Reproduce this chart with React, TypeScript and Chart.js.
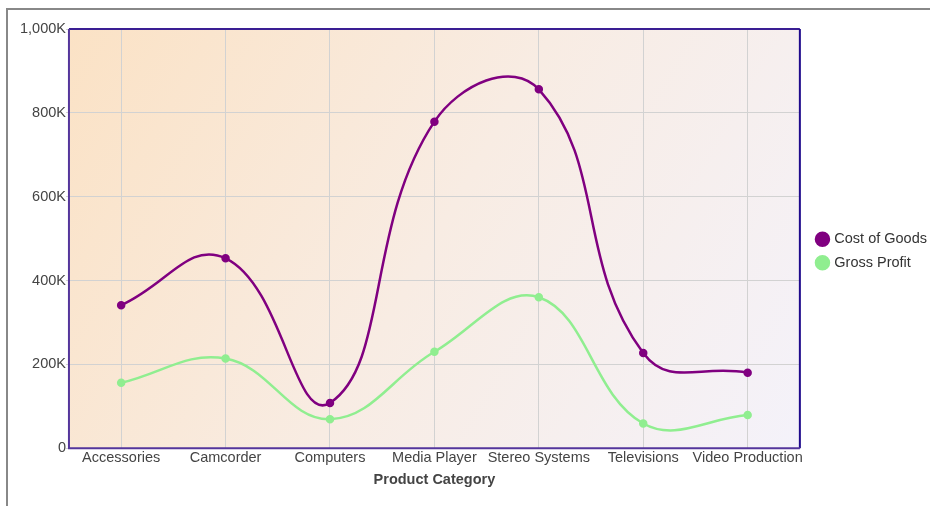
import React, { useEffect, useRef } from "react";
import { Chart, registerables } from "chart.js";

Chart.register(...registerables);

const categories = [
  "Accessories",
  "Camcorder",
  "Computers",
  "Media Player",
  "Stereo Systems",
  "Televisions",
  "Video Production",
];
const costOfGoods = [341000, 453000, 108000, 779000, 856000, 227000, 180000];
const grossProfit = [156000, 214000, 69000, 230000, 360000, 59000, 79000];
const seriesNames = ["Cost of Goods", "Gross Profit"];
const axisTitle = "Product Category";

const FONT = "'Liberation Sans', Arial, Helvetica, sans-serif";
const FS = 14.5;

const areaPlugin = {
  id: "areaDeco",
  beforeDraw(chart: any) {
    const { ctx, chartArea } = chart;
    const { left, top, right, bottom } = chartArea;
    const g = ctx.createLinearGradient(left, top, right, bottom);
    g.addColorStop(0, "#fbe2c5");
    g.addColorStop(0.5, "#f8ece3");
    g.addColorStop(1, "#f4f2fa");
    ctx.save();
    ctx.fillStyle = g;
    ctx.fillRect(left, top, right - left, bottom - top);
    ctx.restore();
  },
  afterDraw(chart: any) {
    const { ctx, chartArea } = chart;
    const { left, top, right, bottom } = chartArea;
    ctx.save();
    ctx.lineWidth = 2;
    ctx.strokeStyle = "#3a1e93";
    ctx.beginPath();
    ctx.moveTo(left, top);
    ctx.lineTo(right, top);
    ctx.stroke();
    ctx.strokeStyle = "#1f0a8c";
    ctx.beginPath();
    ctx.moveTo(right, top);
    ctx.lineTo(right, bottom);
    ctx.stroke();
    ctx.strokeStyle = "#54369c";
    ctx.beginPath();
    ctx.moveTo(left, top);
    ctx.lineTo(left, bottom);
    ctx.lineTo(right, bottom);
    ctx.stroke();
    ctx.restore();
  },
};

const legendShift = {
  id: "legendShift",
  afterLayout(chart: any) {
    const l = chart.legend;
    if (l) {
      const dx = 9;
      const dy = -10;
      l.left += dx;
      l.right += dx;
      l.top += dy;
      l.bottom += dy;
    }
  },
};

export default function App() {
  const ref = useRef<HTMLCanvasElement | null>(null);
  useEffect(() => {
    if (!ref.current) return;
    const chart = new Chart(ref.current, {
      type: "line",
      data: {
        labels: categories,
        datasets: [
          {
            label: seriesNames[0],
            data: costOfGoods,
            borderColor: "#800080",
            backgroundColor: "#800080",
            borderWidth: 2.5,
            pointRadius: 3,
            pointHoverRadius: 3,
            tension: 0.45,
            fill: false,
          },
          {
            label: seriesNames[1],
            data: grossProfit,
            borderColor: "#90ee90",
            backgroundColor: "#90ee90",
            borderWidth: 2.5,
            pointRadius: 3,
            pointHoverRadius: 3,
            tension: 0.4,
            fill: false,
          },
        ],
      },
      plugins: [areaPlugin, legendShift],
      options: {
        responsive: false,
        animation: false,
        layout: { padding: { top: 19, left: 12, right: 2, bottom: 13 } },
        plugins: {
          tooltip: { enabled: false },
          legend: {
            position: "right",
            labels: {
              usePointStyle: true,
              pointStyle: "circle",
              boxWidth: 9.2,
              boxHeight: 9.2,
              padding: 9,
              color: "#333",
              font: { family: FONT, size: FS },
            },
          },
        },
        scales: {
          x: {
            offset: true,
            grid: { color: "#d2d2d2", lineWidth: 1, drawTicks: false, offset: false },
            border: { display: false },
            ticks: {
              color: "#444",
              padding: 1,
              maxRotation: 0,
              autoSkip: false,
              font: { family: FONT, size: FS },
            },
            title: {
              display: true,
              text: axisTitle,
              color: "#444",
              padding: { top: 4, bottom: 4 },
              font: { family: FONT, size: FS, weight: "bold" },
            },
          },
          y: {
            min: 0,
            max: 1000000,
            grid: { color: "#d2d2d2", lineWidth: 1, tickLength: 3 },
            border: { display: false },
            ticks: {
              stepSize: 200000,
              padding: 0,
              color: "#444",
              font: { family: FONT, size: FS },
              callback: (v: any) =>
                Number(v) === 0 ? "0" : (Number(v) / 1000).toLocaleString("en-US") + "K",
            },
          },
        },
      },
    });
    return () => chart.destroy();
  }, []);
  return (
    <div
      style={{
        position: "absolute",
        left: 6,
        top: 8,
        width: 950,
        height: 520,
        borderLeft: "2px solid #888",
        borderTop: "2px solid #888",
        background: "#fff",
      }}
    >
      <canvas ref={ref} width={922} height={496} style={{ display: "block", width: 922, height: 496 }} />
    </div>
  );
}
